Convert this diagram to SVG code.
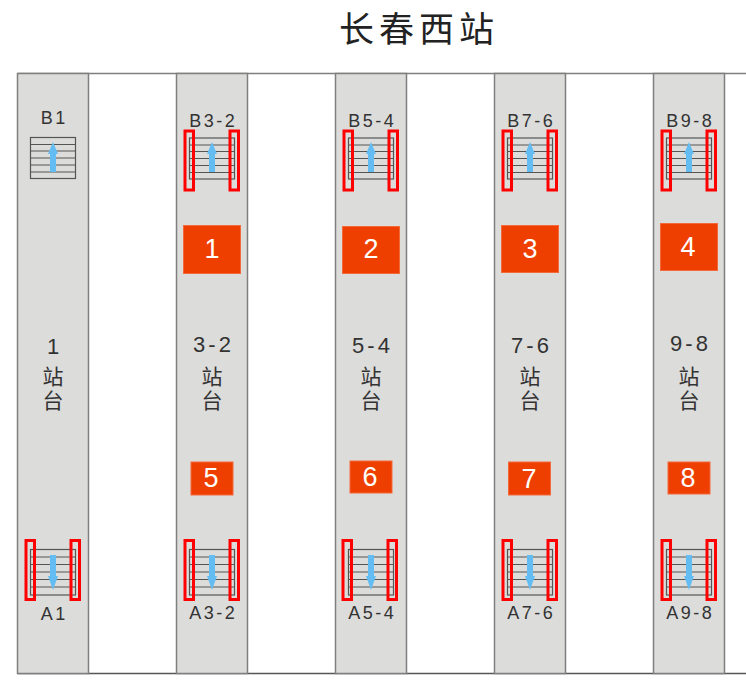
<svg xmlns="http://www.w3.org/2000/svg" xmlns:xlink="http://www.w3.org/1999/xlink" width="746" height="683" viewBox="0 0 746 683">
<style>
.plat{fill:#dcdcdb;stroke:#7f7f7f;stroke-width:1.5}
.fr{stroke:#555;stroke-width:1.5;fill:none}
.st{fill:none;stroke:#555;stroke-width:1.2}
.red{fill:none;stroke:#f00;stroke-width:3}
.arr{fill:#63bdf2}
.lab{font-family:"Liberation Sans","Noto Sans",sans-serif;font-size:18px;fill:#333;text-anchor:middle;letter-spacing:2.5px;transform:translateX(1.2px)}
.pn{font-family:"Liberation Sans",sans-serif;font-size:22px;fill:#333;text-anchor:middle;letter-spacing:3px;transform:translateX(1.5px)}
.cn{font-family:"Noto Sans CJK SC",sans-serif;font-size:21px;fill:#333;text-anchor:middle}
.box{fill:#ee3f00;stroke:#f4693a;stroke-width:1}
.num{font-family:"Liberation Sans",sans-serif;font-size:27px;fill:#fff;text-anchor:middle}
.title{font-family:"Noto Sans CJK SC",sans-serif;font-size:35px;fill:#222;text-anchor:middle;letter-spacing:5px}
</style>
<defs>
<g id="stairs-b">
<rect class="st" x="-22.5" y="-20.5" width="45" height="41"/>
<path class="st" d="M-22.500-13.500H22.500M-22.500-7H22.500M-22.500 0H22.500M-22.500 7H22.500M-22.500 14H22.500"/>
</g>
<g id="stairs-a">
<rect class="st" x="-22.5" y="-22.5" width="45" height="45.500"/>
<path class="st" d="M-22.500-15H22.500M-22.500-7.500H22.500M-22.500 0H22.500M-22.500 7.500H22.500M-22.500 15H22.500"/>
</g>
<path id="up" class="arr" d="M0-16.500L5-4.500H3V13.500H-3V-4.500H-5Z"/>
<path id="down" class="arr" d="M0 18L5 4H3V-17H-3V4H-5Z"/>
<g id="reds">
<rect class="red" x="-27" y="-29" width="8.500" height="59"/>
<rect class="red" x="18" y="-29" width="8.500" height="59"/>
</g>
</defs>
<text class="title" x="419" y="42">长春西站</text>
<g id="frame"><path d="M17.500 73.500H746" stroke="#7f7f7f" stroke-width="1.500" fill="none"/><path class="fr" d="M17.500 673.500H746"/></g>
<g id="platform-1">
<rect class="plat" x="17.500" y="73.500" width="71" height="600"/>
<text class="lab" x="53" y="124">B1</text>
<use xlink:href="#stairs-b" x="53" y="158"/><use xlink:href="#up" x="53" y="158.500"/>
<text class="pn" x="53" y="354">1</text>
<text class="cn" x="53" y="384">站<tspan x="53" dy="24">台</tspan></text>
<use xlink:href="#stairs-a" x="53" y="572"/><use xlink:href="#down" x="53" y="572"/><use xlink:href="#reds" x="53" y="569.500"/>
<text class="lab" x="53" y="620">A1</text>
</g>
<g id="platform-3-2">
<rect class="plat" x="176.500" y="73.500" width="71" height="600"/>
<text class="lab" x="212" y="127">B3-2</text>
<use xlink:href="#stairs-b" x="212" y="158.500"/><use xlink:href="#up" x="212" y="158.500"/><use xlink:href="#reds" x="212" y="160"/>
<rect class="box" x="183.500" y="225.500" width="57" height="48"/><text class="num" x="212" y="258">1</text>
<text class="pn" x="212" y="352">3-2</text>
<text class="cn" x="212" y="384">站<tspan x="212" dy="24">台</tspan></text>
<rect class="box" x="191" y="462" width="42" height="33"/><text class="num" x="211" y="487">5</text>
<use xlink:href="#stairs-a" x="212" y="572"/><use xlink:href="#down" x="212" y="572"/><use xlink:href="#reds" x="212" y="569.500"/>
<text class="lab" x="212" y="619">A3-2</text>
</g>
<g id="platform-5-4">
<rect class="plat" x="335.500" y="73.500" width="71" height="600"/>
<text class="lab" x="371" y="127">B5-4</text>
<use xlink:href="#stairs-b" x="371" y="158.500"/><use xlink:href="#up" x="371" y="158.500"/><use xlink:href="#reds" x="371" y="160"/>
<rect class="box" x="342.500" y="226.500" width="57" height="47"/><text class="num" x="371" y="258">2</text>
<text class="pn" x="371" y="353">5-4</text>
<text class="cn" x="371" y="384">站<tspan x="371" dy="24">台</tspan></text>
<rect class="box" x="350" y="461" width="42" height="32"/><text class="num" x="370" y="486">6</text>
<use xlink:href="#stairs-a" x="371" y="572"/><use xlink:href="#down" x="371" y="572"/><use xlink:href="#reds" x="370" y="569.500"/>
<text class="lab" x="371" y="619">A5-4</text>
</g>
<g id="platform-7-6">
<rect class="plat" x="494.500" y="73.500" width="71" height="600"/>
<text class="lab" x="530" y="127">B7-6</text>
<use xlink:href="#stairs-b" x="530" y="158.500"/><use xlink:href="#up" x="530" y="158.500"/><use xlink:href="#reds" x="530" y="160"/>
<rect class="box" x="501.500" y="225.500" width="57" height="47"/><text class="num" x="530" y="258">3</text>
<text class="pn" x="530" y="353">7-6</text>
<text class="cn" x="530" y="384">站<tspan x="530" dy="24">台</tspan></text>
<rect class="box" x="508.500" y="462" width="42" height="33"/><text class="num" x="529" y="488">7</text>
<use xlink:href="#stairs-a" x="530" y="572"/><use xlink:href="#down" x="530" y="572"/><use xlink:href="#reds" x="530" y="569.500"/>
<text class="lab" x="530" y="619">A7-6</text>
</g>
<g id="platform-9-8">
<rect class="plat" x="653.500" y="73.500" width="71" height="600"/>
<text class="lab" x="689" y="127">B9-8</text>
<use xlink:href="#stairs-b" x="689" y="158.500"/><use xlink:href="#up" x="689" y="158.500"/><use xlink:href="#reds" x="689" y="160"/>
<rect class="box" x="660.500" y="223.500" width="57" height="47"/><text class="num" x="688" y="256">4</text>
<text class="pn" x="689" y="351">9-8</text>
<text class="cn" x="689" y="384">站<tspan x="689" dy="24">台</tspan></text>
<rect class="box" x="668" y="462" width="42" height="32"/><text class="num" x="688" y="487">8</text>
<use xlink:href="#stairs-a" x="689" y="572"/><use xlink:href="#down" x="689" y="572"/><use xlink:href="#reds" x="689" y="569.500"/>
<text class="lab" x="689" y="619">A9-8</text>
</g>
</svg>
